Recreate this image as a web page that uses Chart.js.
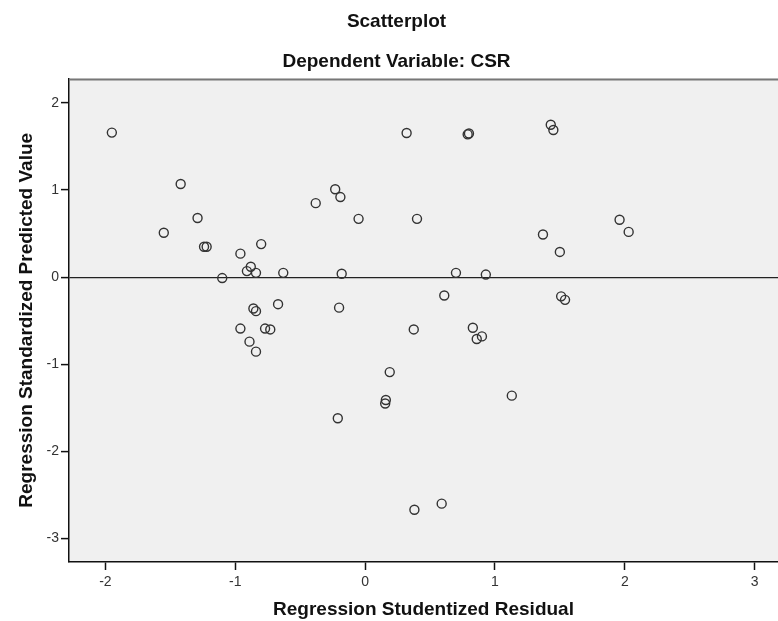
<!DOCTYPE html>
<html>
<head>
<meta charset="utf-8">
<script src="https://cdn.jsdelivr.net/npm/chart.js@4/dist/chart.umd.min.js"></script>
<style>
  html, body { margin: 0; padding: 0; background: #fff; }
  #wrap { width: 778px; height: 621px; }
</style>
</head>
<body>
<div id="wrap"><canvas id="chart"></canvas></div>
<script>
// studentized residual (x) vs standardized predicted value (y)
const residuals = [
  -1.95, -1.42, -1.29, -1.55, -1.24, -1.22, -0.96, -0.80, -0.88, -0.91,
  -0.84, -1.10, -0.63, -0.23, -0.19, -0.38, -0.05, -0.18, -0.86, -0.84,
  -0.67, -0.20, 0.32, 0.79, 0.80, 1.43, 1.45, 0.40, 1.37, 1.50,
  1.96, 2.03, 0.70, 0.93, 0.61, 1.51, 1.54, -0.96, -0.77, -0.73,
  -0.89, -0.84, 0.19, 0.16, 0.155, -0.21, 0.375, 0.83, 0.86, 0.90,
  1.13, 0.38, 0.59
];
const predicted = [
  1.66, 1.07, 0.68, 0.51, 0.35, 0.35, 0.27, 0.38, 0.12, 0.07,
  0.05, -0.01, 0.05, 1.01, 0.92, 0.85, 0.67, 0.04, -0.36, -0.39,
  -0.31, -0.35, 1.655, 1.64, 1.65, 1.75, 1.69, 0.67, 0.49, 0.29,
  0.66, 0.52, 0.05, 0.03, -0.21, -0.22, -0.26, -0.59, -0.59, -0.60,
  -0.74, -0.855, -1.09, -1.41, -1.45, -1.62, -0.60, -0.58, -0.71, -0.68,
  -1.36, -2.67, -2.60
];
const xTicks = [-2, -1, 0, 1, 2, 3];
const yTicks = [2, 1, 0, -1, -2, -3];
const xRange = [-2.28, 3.18];
const yRange = [-3.27, 2.28];

const points = residuals.map((x, i) => ({ x, y: predicted[i] }));

const fontFamily = '"Liberation Sans", Arial, sans-serif';
const titleFont = { family: fontFamily, size: 19, weight: 'bold' };
const tickFont = { family: fontFamily, size: 14 };

// grey plot background + grey top frame line
const plotFrame = {
  id: 'plotFrame',
  beforeDraw(chart) {
    const { ctx, chartArea: a } = chart;
    ctx.save();
    ctx.fillStyle = '#f0f0f0';
    ctx.fillRect(a.left, a.top, a.right - a.left, a.bottom - a.top);
    ctx.restore();
  },
  afterDatasetsDraw(chart) {
    const { ctx, chartArea: a } = chart;
    ctx.save();
    ctx.strokeStyle = '#777';
    ctx.lineWidth = 2;
    ctx.beginPath();
    ctx.moveTo(a.left, a.top + 1);
    ctx.lineTo(a.right, a.top + 1);
    ctx.stroke();
    ctx.restore();
  }
};

new Chart(document.getElementById('chart'), {
  type: 'scatter',
  data: {
    datasets: [{
      label: 'CSR',
      data: points,
      pointStyle: 'circle',
      pointRadius: 4.5,
      pointHoverRadius: 4.5,
      borderWidth: 1.4,
      borderColor: '#333',
      backgroundColor: 'rgba(0,0,0,0)'
    }]
  },
  plugins: [plotFrame],
  options: {
    responsive: true,
    maintainAspectRatio: false,
    animation: false,
    layout: { autoPadding: false, padding: { left: 15, right: 0, top: 0, bottom: 0 } },
    plugins: {
      legend: { display: false },
      tooltip: { enabled: false },
      title: {
        display: true,
        text: 'Scatterplot',
        color: '#111',
        font: titleFont,
        padding: { top: 10, bottom: 18 }
      },
      subtitle: {
        display: true,
        text: 'Dependent Variable: CSR',
        color: '#111',
        font: titleFont,
        padding: { top: 0, bottom: 5 }
      }
    },
    scales: {
      x: {
        type: 'linear',
        min: xRange[0],
        max: xRange[1],
        afterBuildTicks(scale) { scale.ticks = xTicks.map(v => ({ value: v })); },
        afterFit(scale) { scale.height = 59; },
        border: { display: true, color: '#111', width: 1.5 },
        grid: { drawOnChartArea: false, tickLength: 8, tickColor: '#111', tickWidth: 1.5 },
        ticks: {
          color: '#333',
          padding: 4,
          font: tickFont,
          callback: v => String(v)
        },
        title: {
          display: true,
          text: 'Regression Studentized Residual',
          color: '#111',
          font: titleFont,
          padding: { top: 0, bottom: 0 }
        }
      },
      y: {
        type: 'linear',
        min: yRange[0],
        max: yRange[1],
        afterBuildTicks(scale) { scale.ticks = yTicks.map(v => ({ value: v })); },
        afterFit(scale) { scale.width = 54; },
        border: { display: true, color: '#111', width: 1.5 },
        grid: {
          drawOnChartArea: true,
          color: c => (c.tick && c.tick.value === 0 ? '#222' : 'rgba(0,0,0,0)'),
          lineWidth: 1.2,
          tickLength: 8,
          tickColor: '#111',
          tickWidth: 1.5
        },
        ticks: {
          color: '#333',
          padding: 2,
          font: tickFont,
          callback: v => String(v)
        },
        title: {
          display: true,
          text: 'Regression Standardized Predicted Value',
          color: '#111',
          font: titleFont,
          padding: { top: 0, bottom: 0 }
        }
      }
    }
  }
});
</script>
</body>
</html>
